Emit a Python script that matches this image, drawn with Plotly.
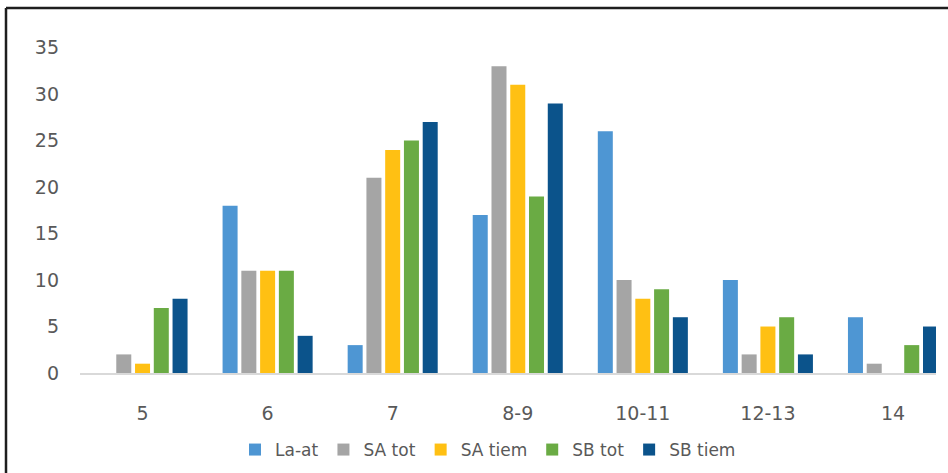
import plotly.graph_objects as go

categories = ["5", "6", "7", "8-9", "10-11", "12-13", "14"]
la_at = [0, 18, 3, 17, 26, 10, 6]
sa_tot = [2, 11, 21, 33, 10, 2, 1]
sa_tiem = [1, 11, 24, 31, 8, 5, 0]
sb_tot = [7, 11, 25, 19, 9, 6, 3]
sb_tiem = [8, 4, 27, 29, 6, 2, 5]

series = [
    ("La-at", la_at, "#4E96D3"),
    ("SA tot", sa_tot, "#A5A5A5"),
    ("SA tiem", sa_tiem, "#FFC013"),
    ("SB tot", sb_tot, "#6AAB44"),
    ("SB tiem", sb_tiem, "#0B538B"),
]

W, H = 948, 473
L, R, T, B = 80, 12, 43, 100
pw, ph = W - L - R, H - T - B


def px(x):
    return (x - L) / pw


def py(y):
    return (H - B - y) / ph


fig = go.Figure()
for name, vals, col in series:
    fig.add_trace(go.Bar(x=categories, y=vals, name=name,
                         marker=dict(color=col, line=dict(width=0))))

font = dict(family="DejaVu Sans, sans-serif", size=19, color="#595959")
legend_font = dict(family="DejaVu Sans, sans-serif", size=17, color="#595959")
fig.update_layout(
    width=W, height=H,
    margin=dict(l=L, r=R, t=T, b=B),
    paper_bgcolor="white", plot_bgcolor="white",
    barmode="group", bargap=0.25, bargroupgap=0.2,
    font=font,
    showlegend=True,
    legend=dict(orientation="h", xref="container", yref="container",
                x=488 / W, xanchor="center", y=(H - 450) / H,
                yanchor="middle", font=legend_font,
                itemwidth=30, tracegroupgap=0),
    xaxis=dict(range=[-0.5, (936 - 143) / 125], showline=True,
               linecolor="#D9D9D9", linewidth=2, ticks="",
               showgrid=False, tickfont=font, ticklabelstandoff=22,
               automargin=False),
    yaxis=dict(range=[0, 35.5], tickvals=[0, 5, 10, 15, 20, 25, 30, 35],
               showgrid=False, zeroline=False, showline=False, ticks="",
               tickfont=font, ticklabelstandoff=20, automargin=False),
    shapes=[
        dict(type="line", xref="paper", yref="paper", x0=px(6), x1=px(948),
             y0=py(8), y1=py(8), line=dict(color="#1E1E1E", width=2.5)),
        dict(type="line", xref="paper", yref="paper", x0=px(6), x1=px(6),
             y0=py(8), y1=py(473), line=dict(color="#1E1E1E", width=2.5)),
    ],
)

# drop the browser's default page margin so the figure sits at (0, 0)
fig.write_html("out.html", config={"displayModeBar": False},
               post_script="document.body.style.margin='0';")
